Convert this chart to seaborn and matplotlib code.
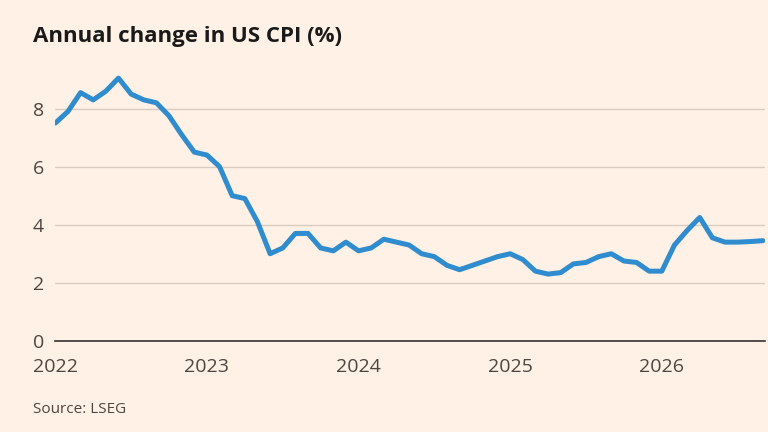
import numpy as np
import matplotlib
matplotlib.use("Agg")
import matplotlib.pyplot as plt
import seaborn as sns
import pandas as pd

start_year = 2022
cpi = [7.5, 7.9, 8.55, 8.3, 8.6, 9.05, 8.5, 8.3, 8.2, 7.75, 7.1, 6.5,
       6.4, 6.0, 5.0, 4.9, 4.1, 3.0, 3.2, 3.7, 3.7, 3.2, 3.1, 3.4,
       3.1, 3.2, 3.5, 3.4, 3.3, 3.0, 2.9, 2.6, 2.45, 2.6, 2.75, 2.9,
       3.0, 2.8, 2.4, 2.3, 2.35, 2.65, 2.7, 2.9, 3.0, 2.75, 2.7, 2.4,
       2.4, 3.3, 3.8, 4.25, 3.55, 3.4, 3.4, 3.42, 3.45]
year_ticks = [2022, 2023, 2024, 2025, 2026]

df = pd.DataFrame({"t": start_year + np.arange(len(cpi)) / 12, "cpi": cpi})

sns.set_style("white")
plt.rcParams["font.family"] = ["Open Sans", "DejaVu Sans"]
bg = "#FFF1E5"
fig = plt.figure(figsize=(7.68, 4.32), dpi=100, facecolor=bg)
ax = fig.add_axes([0.072, 0.211, 0.924, 0.625], facecolor=bg)

sns.lineplot(data=df, x="t", y="cpi", ax=ax, color="#2F8CCF", linewidth=3.6)

ax.set_xlim(2022, 2026.68)
ax.set_ylim(0, 9.3)
ax.set_yticks([0, 2, 4, 6, 8])
ax.set_xticks(year_ticks)
ax.set_xticklabels([str(y) for y in year_ticks])
ax.yaxis.grid(True, color="#D9CCC1", linewidth=1)
ax.set_axisbelow(True)
for s in ["top", "right", "left"]:
    ax.spines[s].set_visible(False)
ax.spines["bottom"].set_color("#333333")
ax.spines["bottom"].set_linewidth(1.2)
ax.tick_params(axis="y", length=0, labelsize=14, colors="#4D4540", pad=8)
ax.tick_params(axis="x", length=10, width=1, color="#333333", labelsize=14,
               labelcolor="#4D4540", direction="out", pad=2)
ax.set_xlabel("")
ax.set_ylabel("")

fig.text(0.043, 0.915, "Annual change in US CPI (%)", fontsize=16,
         fontweight="bold", color="#1A1A1A", va="center")
fig.text(0.043, 0.052, "Source: LSEG", fontsize=11, color="#4D4540",
         va="center")

fig.savefig("out.png", dpi=100, facecolor=bg)
